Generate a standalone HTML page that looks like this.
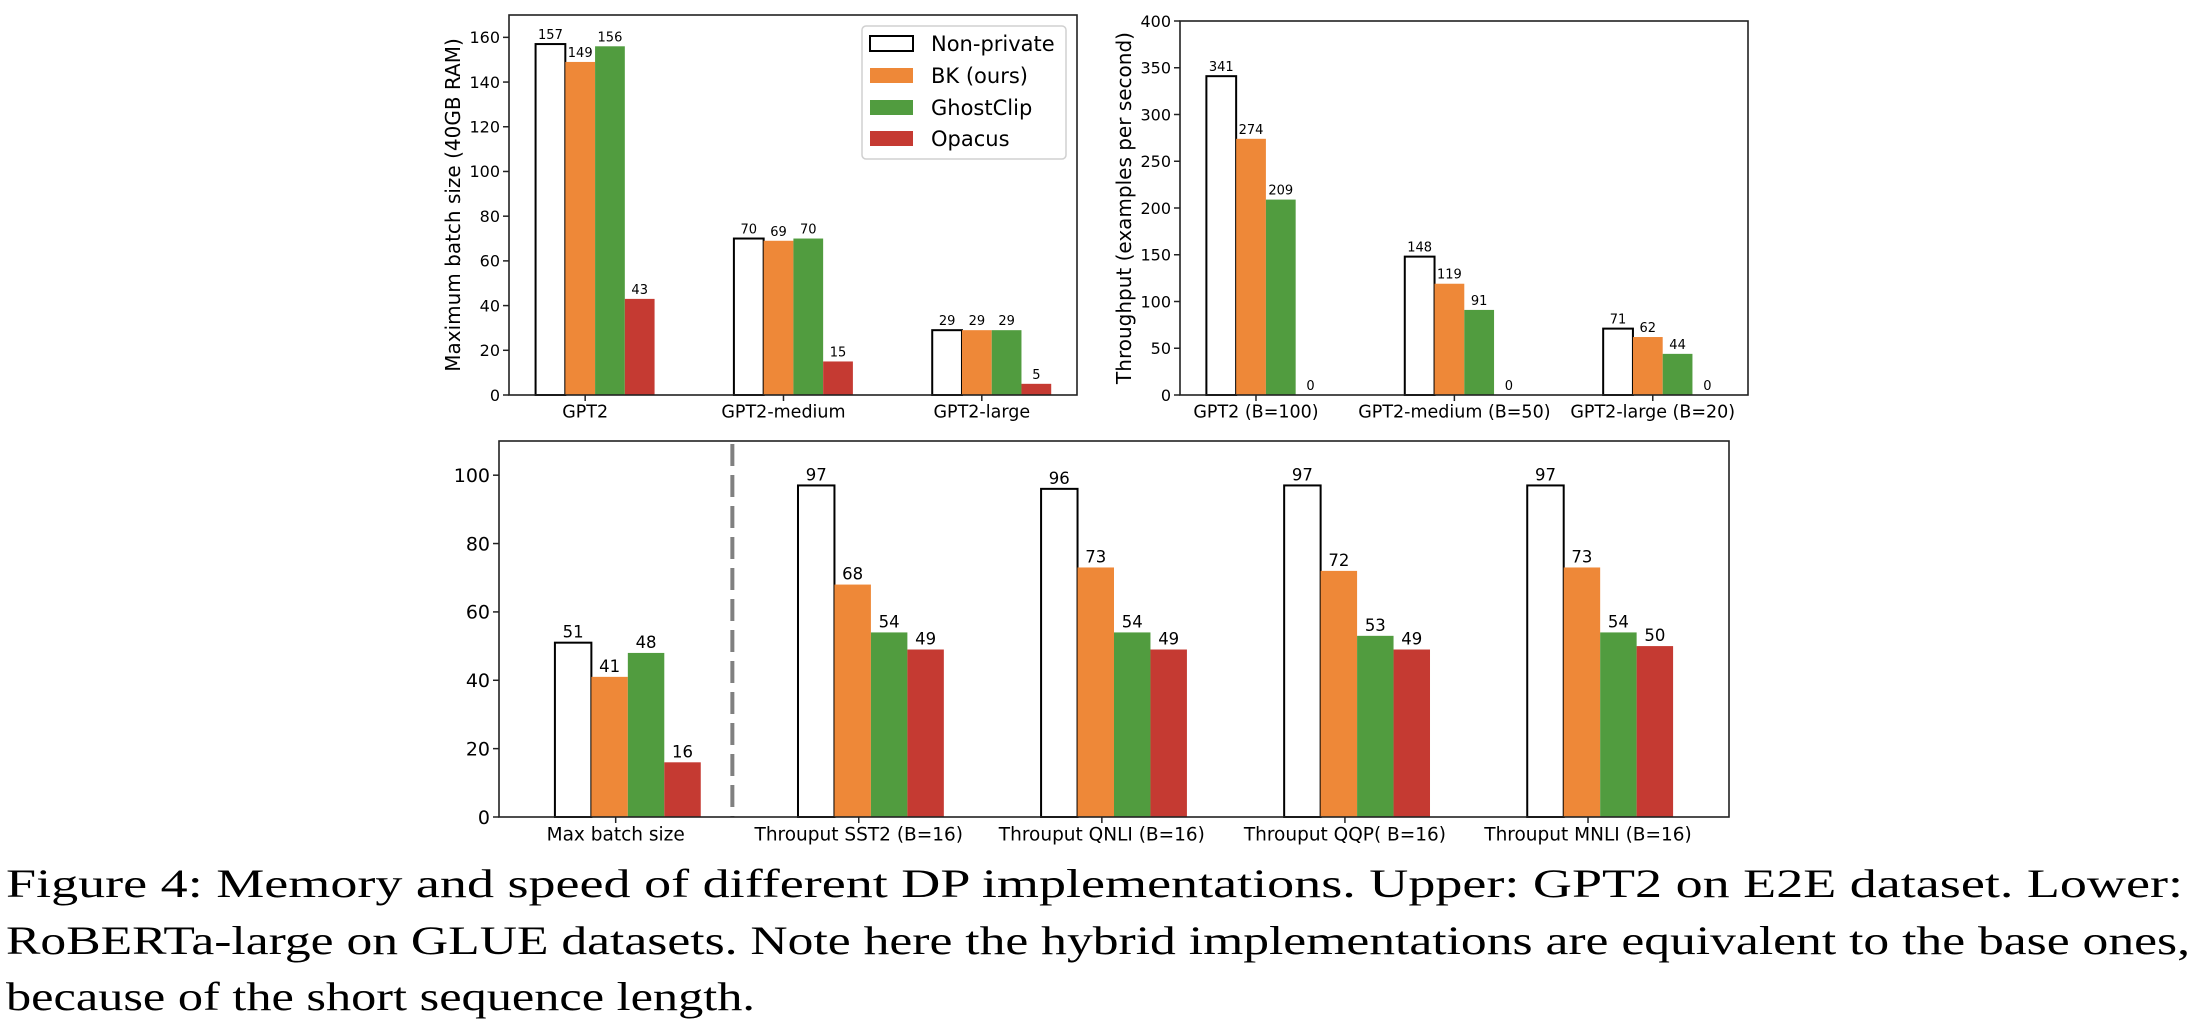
<!DOCTYPE html>
<html><head><meta charset="utf-8"><style>
html,body{margin:0;padding:0;background:#fff;}
svg{display:block;}
</style></head><body>
<svg id="fig" width="2196" height="1032" viewBox="0 0 2196 1032" xmlns="http://www.w3.org/2000/svg" font-family="DejaVu Sans, Liberation Sans, sans-serif">
<g id="c1"></g>
<g id="c2"></g>
<g id="c3"></g>
<g id="legend">
<rect x="862" y="26" width="204" height="133" rx="4" fill="#fff" stroke="#d0d0d0" stroke-width="1.5"/>
<rect x="870" y="36" width="43" height="15" fill="#fff" stroke="#000" stroke-width="2"/>
<text x="931" y="51" font-size="21">Non-private</text>
<rect x="870" y="68" width="43" height="15" fill="#EE8838"/>
<text x="931" y="83" font-size="21">BK (ours)</text>
<rect x="870" y="100" width="43" height="15" fill="#519C3F"/>
<text x="931" y="115" font-size="21">GhostClip</text>
<rect x="870" y="131" width="43" height="15" fill="#C53A32"/>
<text x="931" y="146" font-size="21">Opacus</text>
</g>
<g font-family="Liberation Serif, serif" font-size="40" fill="#000">
<text x="6" y="897" textLength="2177" lengthAdjust="spacingAndGlyphs">Figure 4:  Memory and speed of different DP implementations.  Upper:  GPT2 on E2E dataset.  Lower:</text>
<text x="6" y="954" textLength="2184" lengthAdjust="spacingAndGlyphs">RoBERTa-large on GLUE datasets. Note here the hybrid implementations are equivalent to the base ones,</text>
<text x="6" y="1010" textLength="749" lengthAdjust="spacingAndGlyphs">because of the short sequence length.</text>
</g>
</svg>
<script>
const colors=["#ffffff","#EE8838","#519C3F","#C53A32"];
const seriesNames=["non-private","bk","ghostclip","opacus"];
// Chart 1: max batch size
const cats1=["GPT2","GPT2-medium","GPT2-large"];
const nonPrivate1=[157,70,29];
const bk1=[149,69,29];
const ghost1=[156,70,29];
const opacus1=[43,15,5];
const yTicks1=[0,20,40,60,80,100,120,140,160];
// Chart 2: throughput
const cats2=["GPT2 (B=100)","GPT2-medium (B=50)","GPT2-large (B=20)"];
const nonPrivate2=[341,148,71];
const bk2=[274,119,62];
const ghost2=[209,91,44];
const opacus2=[0,0,0];
const yTicks2=[0,50,100,150,200,250,300,350,400];
// Chart 3: RoBERTa
const cats3=["Max batch size","Throuput SST2 (B=16)","Throuput QNLI (B=16)","Throuput QQP( B=16)","Throuput MNLI (B=16)"];
const nonPrivate3=[51,97,96,97,97];
const bk3=[41,68,73,72,73];
const ghost3=[48,54,54,53,54];
const opacus3=[16,49,49,49,50];
const yTicks3=[0,20,40,60,80,100];

const NS="http://www.w3.org/2000/svg";
function mk(parent,tag,attrs){const e=document.createElementNS(NS,tag);for(const k in attrs)e.setAttribute(k,attrs[k]);parent.appendChild(e);return e;}

function draw(id,cfg){
  const g=document.getElementById(id);
  const xs=v=>cfg.L+(v-cfg.xmin)/(cfg.xmax-cfg.xmin)*(cfg.R-cfg.L);
  const ys=v=>cfg.B-v/cfg.ymax*(cfg.B-cfg.T);
  const offs=[-0.175,-0.025,0.125,0.275], w=0.15;
  cfg.series.forEach((vals,j)=>{
    vals.forEach((v,i)=>{
      const cx=xs(i+offs[j]);
      const x0=xs(i+offs[j]-w/2), x1=xs(i+offs[j]+w/2);
      const r=mk(g,'rect',{x:x0,y:ys(v),width:x1-x0,height:ys(0)-ys(v),fill:colors[j]});
      if(j===0){r.setAttribute('stroke','#000');r.setAttribute('stroke-width','2');}
      
      
      const t=mk(g,'text',{x:cx,y:ys(v)-5,'text-anchor':'middle','font-size':cfg.lblSize});
      t.textContent=v;
      
      
    });
  });
  if(cfg.dash!==undefined){
    const d=mk(g,'line',{x1:xs(cfg.dash),x2:xs(cfg.dash),y1:cfg.T+3,y2:cfg.B,stroke:'#808080','stroke-width':4,'stroke-dasharray':'22,9'});
    
    
  }
  const fr=mk(g,'rect',{x:cfg.L,y:cfg.T,width:cfg.R-cfg.L,height:cfg.B-cfg.T,fill:'none',stroke:'#222','stroke-width':1.6});
  
  
  cfg.yticks.forEach(v=>{
    const y=ys(v);
    mk(g,'line',{x1:cfg.L-6,x2:cfg.L,y1:y,y2:y,stroke:'#222','stroke-width':1.5});
    const t=mk(g,'text',{x:cfg.L-9,y:y+cfg.tickSize*0.36,'text-anchor':'end','font-size':cfg.tickSize});
    t.textContent=v;
    
    
  });
  cfg.cats.forEach((c,i)=>{
    const x=xs(i);
    mk(g,'line',{x1:x,x2:x,y1:cfg.B,y2:cfg.B+6,stroke:'#222','stroke-width':1.5});
    const t=mk(g,'text',{x:x,y:cfg.B+cfg.xtickSize+5,'text-anchor':'middle','font-size':cfg.xtickSize});
    t.textContent=c;
    
    
  });
  if(cfg.ylabel){
    const cy=(cfg.T+cfg.B)/2;
    const t=mk(g,'text',{x:cfg.ylx,y:cy,'text-anchor':'middle','font-size':20,transform:`rotate(-90 ${cfg.ylx} ${cy})`});
    t.textContent=cfg.ylabel;
    
    
  }
}
draw('c1',{L:509,R:1077,T:15,B:395,xmin:-0.384,xmax:2.48,ymax:170,cats:cats1,series:[nonPrivate1,bk1,ghost1,opacus1],yticks:yTicks1,tickSize:16,xtickSize:17.5,lblSize:13,ylabel:"Maximum batch size (40GB RAM)",ylx:460});
draw('c2',{L:1180,R:1748,T:21,B:395,xmin:-0.383,xmax:2.48,ymax:400,cats:cats2,series:[nonPrivate2,bk2,ghost2,opacus2],yticks:yTicks2,tickSize:16,xtickSize:17.5,lblSize:13,ylabel:"Throughput (examples per second)",ylx:1131});
draw('c3',{L:499,R:1729,T:441,B:817,xmin:-0.48,xmax:4.58,ymax:110,cats:cats3,series:[nonPrivate3,bk3,ghost3,opacus3],yticks:yTicks3,tickSize:19,xtickSize:18.5,lblSize:16.5,dash:0.48});
</script>
</body></html>
